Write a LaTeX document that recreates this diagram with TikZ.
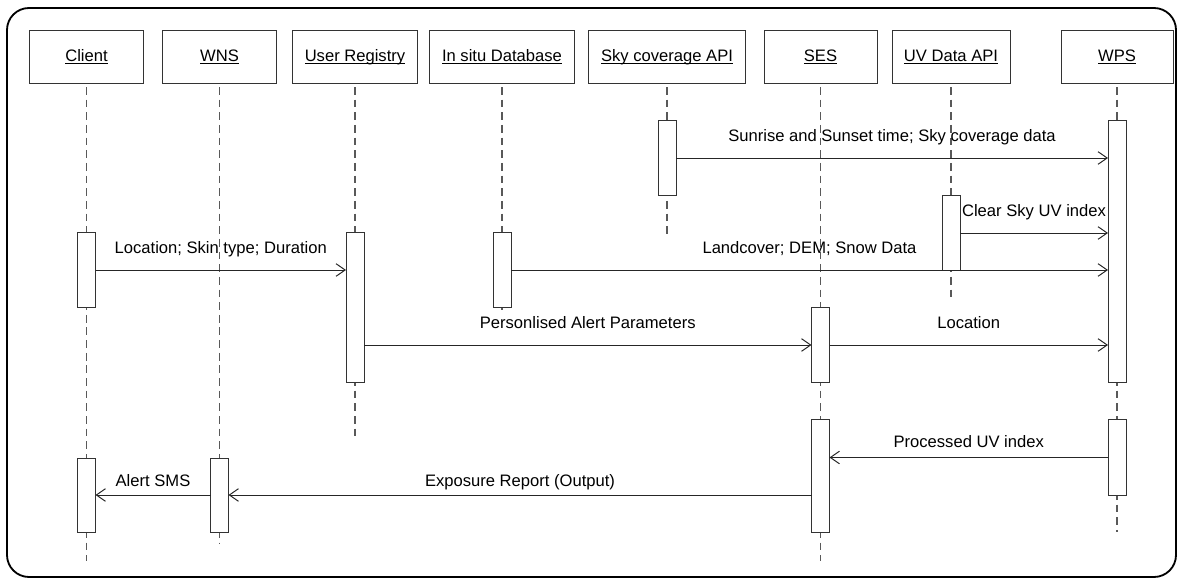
\documentclass[tikz,border=0pt]{standalone}
\usepackage{fontspec}
\setmainfont{Liberation Sans}
\usetikzlibrary{arrows.meta}
\newcommand{\uname}[1]{\setbox0\hbox{#1}\rlap{\rule[-1.6pt]{\wd0}{0.6pt}}\box0}

\begin{document}
\begin{tikzpicture}[x=0.025cm, y=-0.025cm,
  every node/.style={font=\fontsize{11.8}{14}\selectfont, outer sep=0pt},
  head/.style={draw=black!80, line width=0.7pt, minimum height=1.3cm, inner sep=0pt},
  act/.style={draw=black!80, fill=white, line width=0.7pt, minimum width=0.45cm, inner sep=0pt},
  life/.style={draw=black!65, line width=0.75pt, dash pattern=on 5.5pt off 3.5pt, shorten <=0.1cm},
  msg/.style={draw=black!85, line width=0.7pt, -{Straight Barb[length=6.5pt,width=9pt]}},
  lbl/.style={anchor=base, inner sep=0pt}]
\useasboundingbox (0,0) rectangle (1183,583);
\draw[line width=1.3pt, rounded corners=0.55cm] (7,8) rectangle (1176,577);

\node[head, minimum width=2.825cm] (client) at (86.5,57) {\uname{Client}};
\node[head, minimum width=2.825cm] (wns) at (219.5,57) {\uname{WNS}};
\node[head, minimum width=3.1cm] (reg) at (355,57) {\uname{User Registry}};
\node[head, minimum width=3.6cm] (situ) at (502,57) {\uname{In situ Database}};
\node[head, minimum width=3.9cm] (sky) at (667,57) {\uname{Sky coverage API}};
\node[head, minimum width=2.825cm] (ses) at (820.5,57) {\uname{SES}};
\node[head, minimum width=2.95cm] (uv) at (951,57) {\uname{UV Data API}};
\node[head, minimum width=2.8cm] (wps) at (1117,57) {\uname{WPS}};

\coordinate (client-end) at (86.5,561);
\coordinate (wns-end) at (219.5,543);
\coordinate (reg-end) at (355,440);
\coordinate (situ-end) at (502,312);
\coordinate (sky-end) at (667,237);
\coordinate (ses-end) at (820.5,561);
\coordinate (uv-end) at (951,298);
\coordinate (wps-end) at (1117,532);
\draw[life] (client) -- (client-end);
\draw[life] (wns) -- (wns-end);
\draw[life] (reg) -- (reg-end);
\draw[life] (situ) -- (situ-end);
\draw[life] (sky) -- (sky-end);
\draw[life] (ses) -- (ses-end);
\draw[life] (uv) -- (uv-end);
\draw[life] (wps) -- (wps-end);

\node[act, minimum height=1.85cm] (sky1) at (667,158) {};
\node[act, minimum height=6.525cm] (wps1) at (1117,251.5) {};
\node[act, minimum height=1.85cm] (uv1) at (951,233) {};
\node[act, minimum height=1.85cm] (client1) at (86.5,270) {};
\node[act, minimum height=3.725cm] (reg1) at (355,307.5) {};
\node[act, minimum height=1.85cm] (situ1) at (502,270) {};
\node[act, minimum height=1.85cm] (ses1) at (820.5,345) {};
\node[act, minimum height=2.8cm] (ses2) at (820.5,476) {};
\node[act, minimum height=1.875cm] (wps2) at (1117,457.5) {};
\node[act, minimum height=1.85cm] (client2) at (86.5,495) {};
\node[act, minimum height=1.85cm] (wns1) at (219.5,495) {};

\draw[msg] (sky1.east) -- node[lbl, yshift=0.4cm] {Sunrise and Sunset time; Sky coverage data} (sky1.east -| wps1.west);
\draw[msg] (uv1.east) -- node[lbl, yshift=0.4cm] {Clear Sky UV index} (uv1.east -| wps1.west);
\draw[msg] (situ1.east) -- node[lbl, yshift=0.42cm] {Landcover; DEM; Snow Data} (situ1.east -| wps1.west);
\draw[msg] (client1.east) -- node[lbl, yshift=0.42cm] {Location; Skin type; Duration} (client1.east -| reg1.west);
\draw[msg] (reg1.east |- ses1.west) -- node[lbl, yshift=0.4cm] {Personlised Alert Parameters} (ses1.west);
\draw[msg] (ses1.east) -- node[lbl, yshift=0.4cm] {Location} (ses1.east -| wps1.west);
\draw[msg] (wps2.west) -- node[lbl, yshift=0.25cm] {Processed UV index} (wps2.west -| ses2.east);
\draw[msg] (ses2.west |- wns1.east) -- node[lbl, yshift=0.21cm] {Exposure Report (Output)} (wns1.east);
\draw[msg] (wns1.west) -- node[lbl, yshift=0.21cm] {Alert SMS} (client2.east);
\end{tikzpicture}
\end{document}
